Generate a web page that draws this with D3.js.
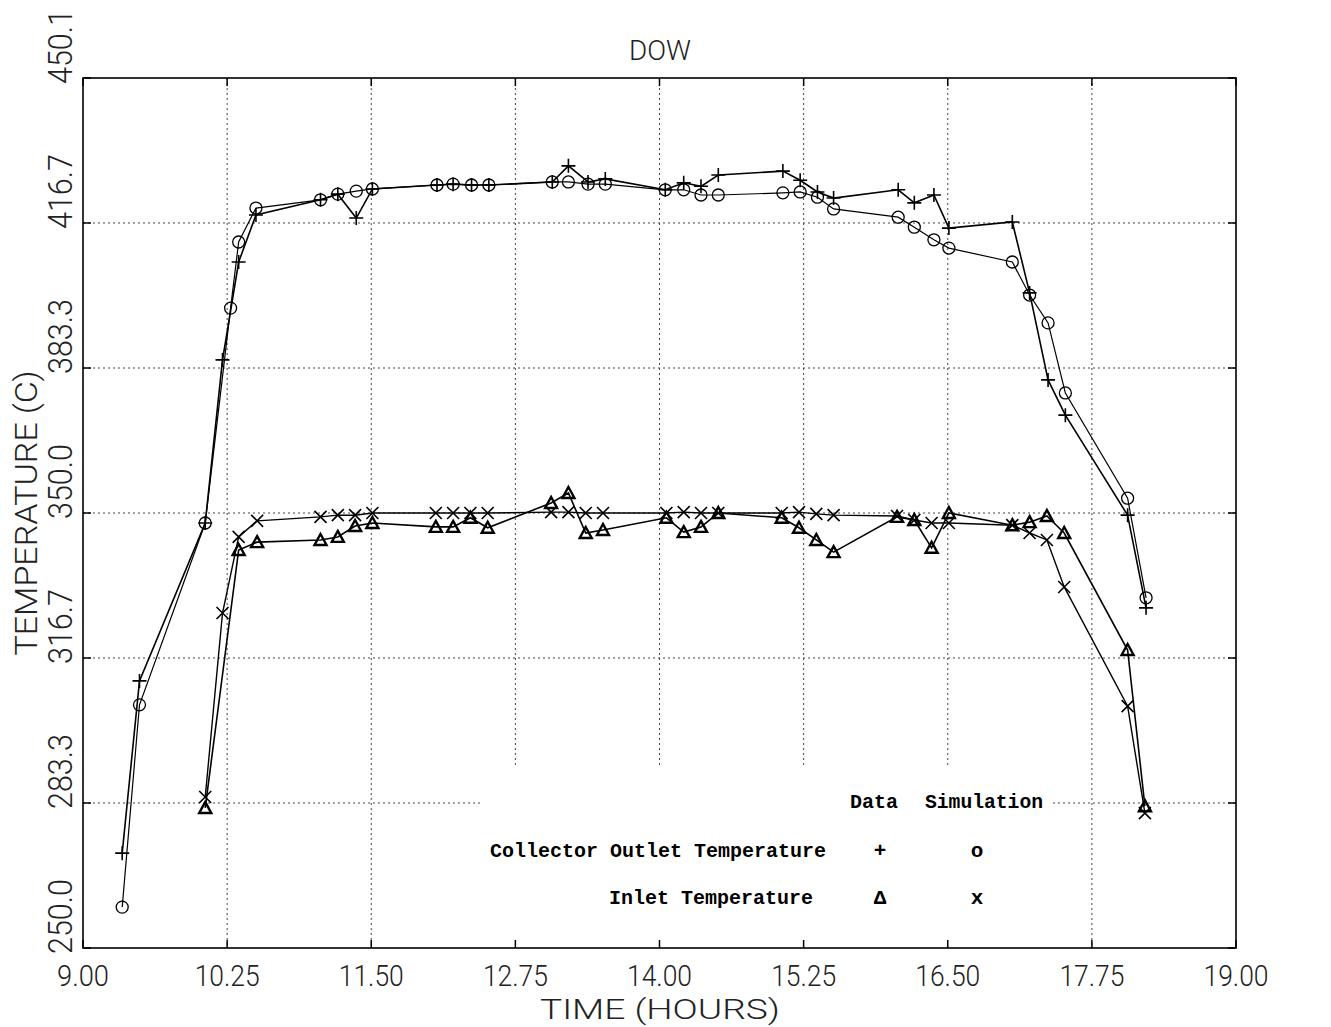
<!DOCTYPE html>
<html>
<head>
  <meta charset="UTF-8">
  <title>DOW</title>
  <script src="https://d3js.org/d3.v7.min.js"></script>
  <style>
    body { margin: 0; background: #fff; }
    .plot-font { font-family: Roboto, "DejaVu Sans", sans-serif; font-weight: 300; fill: #222; }
    .legend-font { font-family: "Liberation Mono", "DejaVu Sans Mono", monospace; font-weight: bold; font-size: 21px; fill: #000; }
    .grid line { stroke: #444; stroke-width: 1; stroke-dasharray: 2,3; }
    .series { fill: none; stroke: #000; }
  </style>
</head>
<body>
  <div id="chart"></div>
  <script>
    // outlet temperature (C) vs time (hours)
    const outletTime = [9.34, 9.49, 10.06, 10.21, 10.35, 10.50, 11.06, 11.21, 11.37, 11.51, 12.07, 12.21,
      12.37, 12.52, 13.07, 13.21, 13.38, 13.53, 14.05, 14.21, 14.36, 14.51, 15.07, 15.22, 15.37, 15.51,
      16.07, 16.21, 16.38, 16.51, 17.06, 17.21, 17.37, 17.52, 18.06, 18.22];
    const outletData = [271.8, 311.4, 347.7, 385.2, 407.7, 418.5, 422.0, 423.3, 417.8, 424.5, 425.4, 425.6,
      425.4, 425.4, 426.1, 429.8, 426.1, 426.8, 424.3, 425.9, 425.1, 427.7, 428.6, 426.5, 423.8, 422.4,
      424.3, 421.3, 423.1, 415.5, 416.9, 400.6, 380.6, 372.5, 349.5, 328.2];
    const outletSimTime = [9.34, 9.49, 10.06, 10.28, 10.35, 10.50, 11.06, 11.21, 11.37, 11.51, 12.07, 12.21,
      12.37, 12.52, 13.07, 13.21, 13.38, 13.53, 14.05, 14.21, 14.36, 14.51, 15.07, 15.22, 15.37, 15.51,
      16.07, 16.21, 16.38, 16.51, 17.06, 17.21, 17.37, 17.52, 18.06, 18.22];
    const outletSim = [259.4, 305.9, 347.7, 397.1, 412.3, 420.1, 422.0, 423.3, 424.0, 424.5, 425.4, 425.6,
      425.4, 425.4, 426.1, 426.1, 425.6, 425.6, 424.3, 424.3, 423.1, 423.1, 423.6, 423.8, 422.6, 419.9,
      418.0, 415.7, 412.8, 410.9, 407.7, 400.1, 393.7, 377.6, 353.4, 330.5];

    // inlet temperature
    const inletTime = [10.06, 10.35, 10.51, 11.06, 11.21, 11.36, 11.51, 12.06, 12.21, 12.36, 12.51,
      13.06, 13.21, 13.36, 13.51, 14.06, 14.21, 14.36, 14.51, 15.06, 15.21, 15.36, 15.51,
      16.06, 16.21, 16.36, 16.51, 17.06, 17.21, 17.36, 17.51, 18.06, 18.21];
    const inletData = [282.2, 341.5, 343.3, 343.8, 344.5, 347.0, 347.7, 346.8, 346.8, 348.9, 346.6,
      352.3, 354.6, 345.4, 346.1, 348.9, 345.6, 346.8, 350.0, 348.9, 346.6, 343.8, 341.0,
      349.1, 348.4, 342.0, 350.0, 347.2, 347.9, 349.3, 345.4, 318.5, 282.6];
    const inletSimTime = [10.06, 10.21, 10.35, 10.51, 11.06, 11.21, 11.36, 11.51, 12.06, 12.21, 12.36, 12.51,
      13.06, 13.21, 13.36, 13.51, 14.06, 14.21, 14.36, 14.51, 15.06, 15.21, 15.36, 15.51,
      16.06, 16.21, 16.36, 16.51, 17.06, 17.21, 17.36, 17.51, 18.06, 18.21];
    const inletSim = [284.7, 327.0, 344.5, 348.2, 349.1, 349.5, 349.5, 350.0, 350.0, 350.0, 350.0, 350.0,
      350.2, 350.2, 350.0, 350.0, 350.0, 350.2, 350.0, 350.0, 350.0, 350.2, 349.8, 349.5,
      349.3, 348.4, 347.7, 347.7, 347.2, 345.4, 343.8, 333.0, 305.6, 281.0];

    const xTicks = [9.00, 10.25, 11.50, 12.75, 14.00, 15.25, 16.50, 17.75, 19.00];
    const xTickLabels = ["9.00", "10.25", "11.50", "12.75", "14.00", "15.25", "16.50", "17.75", "19.00"];
    const yTicks = [250, 283.33, 316.67, 350, 383.33, 416.67, 450];
    const yTickLabels = ["250.0", "283.3", "316.7", "350.0", "383.3", "416.7", "450.1"];

    const legendRows = [
      { label: "Collector Outlet Temperature", data: "+", sim: "o" },
      { label: "Inlet Temperature", data: "\u0394", sim: "x" }
    ];

    const width = 1331, height = 1027;
    const margin = { top: 78, right: 95, bottom: 79, left: 83 };

    const x = d3.scaleLinear().domain([9, 19]).range([margin.left, width - margin.right]);
    const y = d3.scaleLinear().domain([250, 450]).range([height - margin.bottom, margin.top]);

    const svg = d3.select("#chart").append("svg")
      .attr("width", width)
      .attr("height", height);

    svg.append("rect").attr("width", width).attr("height", height).attr("fill", "#fff");

    // grid
    const grid = svg.append("g").attr("class", "grid");
    grid.selectAll(".vgrid")
      .data(xTicks.slice(1, -1))
      .enter().append("line")
      .attr("x1", d => x(d)).attr("x2", d => x(d))
      .attr("y1", y(450)).attr("y2", y(250));
    grid.selectAll(".hgrid")
      .data(yTicks.slice(1, -1))
      .enter().append("line")
      .attr("x1", x(9)).attr("x2", x(19))
      .attr("y1", d => y(d)).attr("y2", d => y(d));

    // white area behind legend hides the grid there
    svg.append("rect")
      .attr("x", 482).attr("y", 766)
      .attr("width", 568).attr("height", y(250) - 766)
      .attr("fill", "#fff");

    // frame and inner ticks
    svg.append("rect")
      .attr("x", x(9)).attr("y", y(450))
      .attr("width", x(19) - x(9)).attr("height", y(250) - y(450))
      .attr("fill", "none").attr("stroke", "#000").attr("stroke-width", 1.6);

    const ticks = svg.append("g").attr("stroke", "#000").attr("stroke-width", 1.5);
    xTicks.forEach(t => {
      ticks.append("line").attr("x1", x(t)).attr("x2", x(t)).attr("y1", y(250)).attr("y2", y(250) - 8);
      ticks.append("line").attr("x1", x(t)).attr("x2", x(t)).attr("y1", y(450)).attr("y2", y(450) + 8);
    });
    yTicks.forEach(t => {
      ticks.append("line").attr("x1", x(9)).attr("x2", x(9) + 8).attr("y1", y(t)).attr("y2", y(t));
      ticks.append("line").attr("x1", x(19)).attr("x2", x(19) - 8).attr("y1", y(t)).attr("y2", y(t));
    });

    // tick labels (tall, narrow plotter lettering)
    svg.selectAll(".xlabel")
      .data(xTicks)
      .enter().append("text")
      .attr("class", "plot-font")
      .attr("x", d => x(d))
      .attr("y", 986)
      .attr("text-anchor", "middle")
      .attr("font-size", 30)
      .attr("textLength", (d, i) => xTickLabels[i].length * 13)
      .attr("lengthAdjust", "spacingAndGlyphs")
      .text((d, i) => xTickLabels[i]);

    svg.selectAll(".ylabel")
      .data(yTicks)
      .enter().append("text")
      .attr("class", "plot-font")
      .attr("transform", d => `translate(72, ${y(d) + 6}) rotate(-90)`)
      .attr("text-anchor", "start")
      .attr("font-size", 33)
      .attr("textLength", (d, i) => yTickLabels[i].length * 15)
      .attr("lengthAdjust", "spacingAndGlyphs")
      .text((d, i) => yTickLabels[i]);

    svg.append("text")
      .attr("class", "plot-font")
      .attr("x", 660).attr("y", 60)
      .attr("text-anchor", "middle")
      .attr("font-size", 28)
      .attr("textLength", 62)
      .attr("lengthAdjust", "spacingAndGlyphs")
      .text("DOW");

    svg.append("text")
      .attr("class", "plot-font")
      .attr("x", 660).attr("y", 1019)
      .attr("text-anchor", "middle")
      .attr("font-size", 27)
      .attr("textLength", 240)
      .attr("lengthAdjust", "spacingAndGlyphs")
      .text("TIME (HOURS)");

    svg.append("text")
      .attr("class", "plot-font")
      .attr("transform", `translate(37, ${(y(250) + y(450)) / 2}) rotate(-90)`)
      .attr("text-anchor", "middle")
      .attr("font-size", 31)
      .attr("textLength", 285)
      .attr("lengthAdjust", "spacingAndGlyphs")
      .text("TEMPERATURE (C)");

    // series
    const line = d3.line().x(d => x(d[0])).y(d => y(d[1]));
    const zip = (t, v) => t.map((d, i) => [d, v[i]]);

    const series = [
      { pts: zip(outletTime, outletData), marker: "plus", width: 1.6 },
      { pts: zip(outletSimTime, outletSim), marker: "circle", width: 1.2 },
      { pts: zip(inletTime, inletData), marker: "triangle", width: 1.6 },
      { pts: zip(inletSimTime, inletSim), marker: "cross", width: 1.4 }
    ];

    const markerPath = {
      plus: "M-7,0H7M0,-7V7",
      cross: "M-6,-6L6,6M-6,6L6,-6",
      triangle: "M0,-6L6,5H-6Z"
    };

    series.forEach(s => {
      svg.append("path")
        .datum(s.pts)
        .attr("class", "series")
        .attr("stroke-width", s.width)
        .attr("d", line);

      const g = svg.append("g");
      if (s.marker === "circle") {
        g.selectAll("circle")
          .data(s.pts)
          .enter().append("circle")
          .attr("cx", d => x(d[0])).attr("cy", d => y(d[1]))
          .attr("r", 6)
          .attr("fill", "none").attr("stroke", "#000").attr("stroke-width", 1.3);
      } else {
        g.selectAll("path")
          .data(s.pts)
          .enter().append("path")
          .attr("transform", d => `translate(${x(d[0])}, ${y(d[1])})`)
          .attr("d", markerPath[s.marker])
          .attr("fill", "none")
          .attr("stroke", "#000")
          .attr("stroke-width", s.marker === "triangle" ? 2.4 : 1.6);
      }
    });

    // legend
    const legend = svg.append("g").attr("class", "legend-font");
    legend.append("text").attr("x", 850).attr("y", 808)
      .attr("textLength", 48).attr("lengthAdjust", "spacingAndGlyphs").text("Data");
    legend.append("text").attr("x", 925).attr("y", 808)
      .attr("textLength", 118).attr("lengthAdjust", "spacingAndGlyphs").text("Simulation");
    legendRows.forEach((r, i) => {
      const ly = 857 + i * 47;
      legend.append("text").attr("x", i === 0 ? 826 : 813).attr("y", ly).attr("text-anchor", "end")
        .attr("textLength", r.label.length * 12).attr("lengthAdjust", "spacingAndGlyphs").text(r.label);
      legend.append("text").attr("x", 880).attr("y", ly).attr("text-anchor", "middle").text(r.data);
      legend.append("text").attr("x", 977).attr("y", ly).attr("text-anchor", "middle").text(r.sim);
    });
  </script>
</body>
</html>
